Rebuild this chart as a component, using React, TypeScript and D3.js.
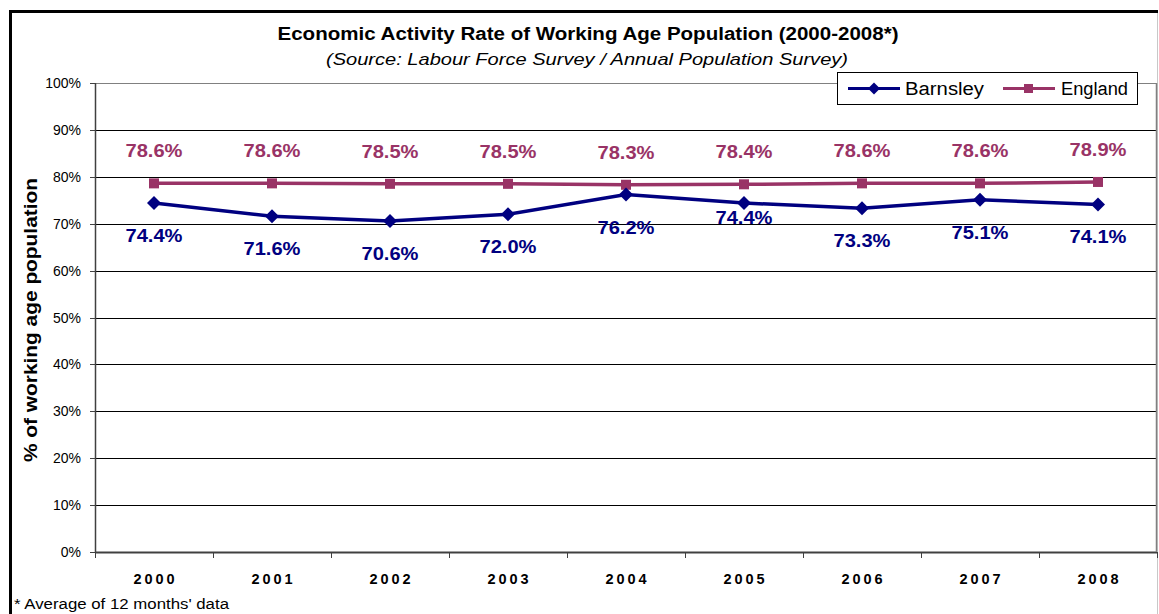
import React from "react";
import * as d3 from "d3";

const years = ["2000", "2001", "2002", "2003", "2004", "2005", "2006", "2007", "2008"];
const barnsley = [74.4, 71.6, 70.6, 72.0, 76.2, 74.4, 73.3, 75.1, 74.1];
const england = [78.6, 78.6, 78.5, 78.5, 78.3, 78.4, 78.6, 78.6, 78.9];
const yTicks = [0, 10, 20, 30, 40, 50, 60, 70, 80, 90, 100];
const barnsleyLabelNudge: Record<string, number> = { "2005": -18 };

const W = 1159;
const H = 614;
const plot = { left: 95, right: 1157, top: 83, bottom: 552 };
const NAVY = "#000080";
const PLUM = "#993366";
const FONT = "'Liberation Sans', Arial, sans-serif";
const SA = "spacingAndGlyphs";

export default function App() {
  const x = d3.scaleBand().domain(years).range([plot.left, plot.right]).padding(0);
  const y = d3.scaleLinear().domain([0, 100]).range([plot.bottom, plot.top]);
  const cx = (yr: string) => (x(yr) as number) + x.bandwidth() / 2;
  const line = d3
    .line<[string, number]>()
    .x((d) => cx(d[0]))
    .y((d) => y(d[1]));
  const bData = years.map((yr, i) => [yr, barnsley[i]] as [string, number]);
  const eData = years.map((yr, i) => [yr, england[i]] as [string, number]);
  const diamond = (px: number, py: number, r: number) =>
    `M${px},${py - r}L${px + r},${py}L${px},${py + r}L${px - r},${py}Z`;

  return (
    <svg width={W} height={H} style={{ position: "absolute", left: 0, top: 0, display: "block" }}>
      <rect x={0} y={0} width={W} height={H} fill="#fff" />
      {/* outer frame */}
      <line x1={1157.5} y1={12} x2={1157.5} y2={H} stroke="#c8c8c8" strokeWidth={1} />
      <line x1={9} y1={11.5} x2={1158} y2={11.5} stroke="#000" strokeWidth={3} />
      <line x1={10.5} y1={10} x2={10.5} y2={H} stroke="#000" strokeWidth={3} />

      {/* title */}
      <text x={588} y={39.5} textAnchor="middle" fontFamily={FONT} fontWeight="bold" fontSize={18} fill="#000" textLength={621} lengthAdjust={SA}>
        Economic Activity Rate of Working Age Population (2000-2008*)
      </text>
      <text x={587} y={64.5} textAnchor="middle" fontFamily={FONT} fontStyle="italic" fontSize={17} fill="#000" textLength={522} lengthAdjust={SA}>
        (Source: Labour Force Survey / Annual Population Survey)
      </text>

      {/* gridlines */}
      {yTicks.map((t) => (
        <line
          key={"g" + t}
          x1={plot.left}
          x2={plot.right}
          y1={Math.round(y(t)) + 0.5}
          y2={Math.round(y(t)) + 0.5}
          stroke={t === 100 ? "#808080" : t === 0 ? "#404040" : "#000"}
          strokeWidth={t === 0 ? 2 : 1}
        />
      ))}
      {/* plot right border */}
      <line x1={plot.right - 0.5} x2={plot.right - 0.5} y1={plot.top} y2={plot.bottom} stroke="#808080" strokeWidth={1.5} />
      {/* y axis */}
      <line x1={plot.left + 0.5} x2={plot.left + 0.5} y1={plot.top} y2={plot.bottom + 1} stroke="#404040" strokeWidth={1.5} />
      {yTicks.map((t) => (
        <g key={"yt" + t}>
          <line x1={plot.left - 5} x2={plot.left} y1={Math.round(y(t)) + 0.5} y2={Math.round(y(t)) + 0.5} stroke="#404040" />
          <text x={plot.left - 14} y={y(t) + 5} textAnchor="end" fontFamily={FONT} fontSize={14} fill="#000">
            {t}%
          </text>
        </g>
      ))}
      {/* x ticks */}
      {years.concat(["end"]).map((yr, i) => {
        const xx = Math.round(plot.left + i * x.bandwidth()) + 0.5;
        return <line key={"xt" + i} x1={xx} x2={xx} y1={plot.bottom} y2={plot.bottom + 6} stroke="#404040" />;
      })}
      {years.map((yr) => (
        <text
          key={"xl" + yr}
          x={cx(yr)}
          y={583.5}
          textAnchor="middle"
          fontFamily={FONT}
          fontWeight="bold"
          fontSize={14.5}
          fill="#000"
          textLength={41}
          lengthAdjust="spacing"
        >
          {yr}
        </text>
      ))}

      {/* y axis title */}
      <text
        transform={`translate(37,${320}) rotate(-90)`}
        textAnchor="middle"
        fontFamily={FONT}
        fontWeight="bold"
        fontSize={18}
        fill="#000"
        textLength={284}
        lengthAdjust={SA}
      >
        % of working age population
      </text>

      {/* England */}
      <path d={line(eData) || ""} fill="none" stroke={PLUM} strokeWidth={3.5} />
      {eData.map(([yr, v]) => (
        <rect key={"es" + yr} x={cx(yr) - 5} y={y(v) - 5} width={10} height={10} fill={PLUM} />
      ))}
      {eData.map(([yr, v]) => (
        <text
          key={"el" + yr}
          x={cx(yr)}
          y={y(v) - 26}
          textAnchor="middle"
          fontFamily={FONT}
          fontWeight="bold"
          fontSize={18}
          fill={PLUM}
          textLength={57}
          lengthAdjust={SA}
        >
          {v.toFixed(1)}%
        </text>
      ))}

      {/* Barnsley */}
      <path d={line(bData) || ""} fill="none" stroke={NAVY} strokeWidth={3.5} />
      {bData.map(([yr, v]) => (
        <path key={"bd" + yr} d={diamond(cx(yr), y(v), 7)} fill={NAVY} />
      ))}
      {bData.map(([yr, v]) => (
        <text
          key={"bl" + yr}
          x={cx(yr)}
          y={y(v) + 39 + (barnsleyLabelNudge[yr] || 0)}
          textAnchor="middle"
          fontFamily={FONT}
          fontWeight="bold"
          fontSize={18}
          fill={NAVY}
          textLength={57}
          lengthAdjust={SA}
        >
          {v.toFixed(1)}%
        </text>
      ))}

      {/* legend */}
      <rect x={837.5} y={72.5} width={300} height={32} fill="#fff" stroke="#000" strokeWidth={1} />
      <line x1={848} x2={900} y1={88.5} y2={88.5} stroke={NAVY} strokeWidth={3} />
      <path d={diamond(874, 88.5, 6)} fill={NAVY} />
      <text x={905} y={95} fontFamily={FONT} fontSize={18} fill="#000" textLength={79} lengthAdjust={SA}>
        Barnsley
      </text>
      <line x1={1003} x2={1055} y1={88.5} y2={88.5} stroke={PLUM} strokeWidth={3} />
      <rect x={1024} y={84} width={9} height={9} fill={PLUM} />
      <text x={1061} y={95} fontFamily={FONT} fontSize={18} fill="#000" textLength={67} lengthAdjust={SA}>
        England
      </text>

      {/* footnote */}
      <text x={14} y={609} fontFamily={FONT} fontSize={14} fill="#000" textLength={215} lengthAdjust={SA}>
        * Average of 12 months' data
      </text>
    </svg>
  );
}
